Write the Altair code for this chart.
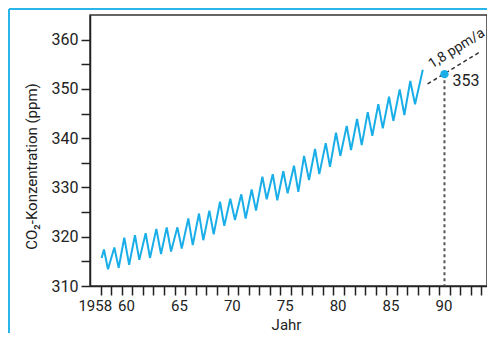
import altair as alt
import pandas as pd

FONT = "Roboto"
BLUE = "#1aaee8"
DARK = "#222222"

# Sawtooth CO2 series (Mauna Loa style)
years = [1958.10, 1958.32, 1958.70, 1959.30, 1959.71, 1960.24, 1960.70, 1961.25, 1961.66,
         1962.26, 1962.67, 1963.27, 1963.71, 1964.25, 1964.66, 1965.26, 1965.67, 1966.29,
         1966.71, 1967.30, 1967.71, 1968.28, 1968.69, 1969.29, 1969.69, 1970.26, 1970.70,
         1971.30, 1971.71, 1972.28, 1972.69, 1973.29, 1973.70, 1974.27, 1974.70, 1975.27,
         1975.68, 1976.28, 1976.69, 1977.23, 1977.70, 1978.27, 1978.67, 1979.28, 1979.68,
         1980.25, 1980.66, 1981.26, 1981.67, 1982.24, 1982.68, 1983.25, 1983.68, 1984.25,
         1984.67, 1985.26, 1985.67, 1986.27, 1986.71, 1987.27, 1987.72, 1988.45]
ppm = [315.7, 317.4, 313.4, 317.8, 313.7, 319.8, 314.3, 320.3, 315.3,
       320.7, 315.7, 321.6, 316.5, 321.9, 317.0, 321.9, 317.6, 323.7,
       318.3, 324.7, 319.3, 325.3, 320.5, 327.1, 322.2, 327.7, 323.4,
       328.6, 323.7, 329.6, 325.3, 332.2, 327.6, 332.7, 327.4, 333.3,
       328.8, 334.4, 329.1, 336.4, 331.5, 337.8, 332.7, 339.0, 334.2,
       341.1, 336.4, 342.5, 337.6, 343.9, 338.6, 345.3, 340.5, 346.9,
       342.0, 348.4, 343.5, 349.9, 344.7, 351.6, 346.9, 353.9]

# Trend extension (dashed)
trend_years = [1988.9, 1993.85]
trend_ppm = [351.0, 357.5]

# Highlighted value
point_year = [1990.5]
point_ppm = [353]
point_label = ["353"]

# Rate annotation
rate_year = [1991.65]
rate_ppm = [358.2]
rate_text = ["1,8 ppm/a"]

# Axis ticks and labels
tick_years = list(range(1958, 1995))
y_ticks = list(range(310, 365, 5))
x_label_pos = [1957.5, 1960.45, 1965.45, 1970.45, 1975.45, 1980.45, 1985.45, 1990.45]
x_label_text = ["1958", "60", "65", "70", "75", "80", "85", "90"]

W, H = 397, 271

x_scale = alt.Scale(domain=[1957, 1994.52], nice=False, zero=False)
y_scale = alt.Scale(domain=[310, 365], nice=False, zero=False)

df = pd.DataFrame({"year": years, "ppm": ppm})
trend_df = pd.DataFrame({"year": trend_years, "ppm": trend_ppm})
pt_df = pd.DataFrame({"year": point_year, "ppm": point_ppm, "label": point_label})
rate_df = pd.DataFrame({"year": rate_year, "ppm": rate_ppm, "text": rate_text})
lab_df = pd.DataFrame({"year": x_label_pos, "text": x_label_text})

x_axis = alt.Axis(values=tick_years, labels=False, tickSize=9, tickColor=DARK, tickWidth=1.5,
                  domainColor=DARK, domainWidth=1.5, grid=False,
                  title="Jahr", titleFont=FONT, titleFontSize=15, titleFontWeight="normal",
                  titleColor=DARK, titleX=196, titleY=43, titleBaseline="alphabetic",
                  titleAlign="center")
y_axis = alt.Axis(values=y_ticks, labelExpr="datum.value % 10 == 0 ? datum.value : ''",
                  tickSize=9, tickColor=DARK, tickWidth=1.5, domainColor=DARK, domainWidth=1.5,
                  grid=False, labelFont=FONT, labelFontSize=16, labelColor=DARK, labelPadding=3,
                  title="CO₂-Konzentration (ppm)", titleFont=FONT, titleFontSize=15,
                  titleFontWeight="normal", titleColor=DARK, titleAngle=270,
                  titleX=-59, titleY=151, titleAlign="center", titleBaseline="middle")

X = alt.X("year:Q", scale=x_scale, axis=x_axis)
Y = alt.Y("ppm:Q", scale=y_scale, axis=y_axis)

line = alt.Chart(df).mark_line(color=BLUE, strokeWidth=2, strokeJoin="miter").encode(x=X, y=Y)

trend = alt.Chart(trend_df).mark_line(color="#333333", strokeWidth=1.5, strokeDash=[4, 3]).encode(x=X, y=Y)

vline = alt.Chart(pt_df).mark_rule(color="#555555", strokeWidth=2, strokeDash=[3, 3]).encode(
    x=X, y=Y, y2=alt.value(H))

point = alt.Chart(pt_df).mark_circle(color=BLUE, size=70, opacity=1).encode(x=X, y=Y)

point_text = alt.Chart(pt_df).mark_text(font=FONT, fontSize=16, color=DARK, align="left",
                                        baseline="middle", dx=8, dy=7).encode(
    x=X, y=Y, text="label:N")

rate = alt.Chart(rate_df).mark_text(font=FONT, fontSize=14, color=DARK, align="center",
                                    baseline="middle", angle=328).encode(
    x=X, y=Y, text="text:N")

xlabels = alt.Chart(lab_df).mark_text(font=FONT, fontSize=15, color=DARK, align="center",
                                      baseline="middle").encode(
    x=X, y=alt.value(291), text="text:N")

one = alt.Data(values=[{"a": 1}])
border_v = alt.Chart(one).mark_rule(color="#29b5e8", strokeWidth=2).encode(
    x=alt.value(-81), y=alt.value(-6), y2=alt.value(330))
border_h = alt.Chart(one).mark_rule(color="#29b5e8", strokeWidth=2).encode(
    x=alt.value(-81), x2=alt.value(410), y=alt.value(-6))

chart = alt.layer(line, trend, vline, point, point_text, rate, xlabels, border_v, border_h).properties(
    width=W, height=H,
    autosize=alt.AutoSizeParams(type="none"),
    padding={"left": 82, "top": 7, "right": 0, "bottom": 47},
).configure(background="white").configure_view(stroke="#333333", strokeWidth=1.5)

chart.save("out.html", embed_options={"renderer": "svg", "actions": False})
